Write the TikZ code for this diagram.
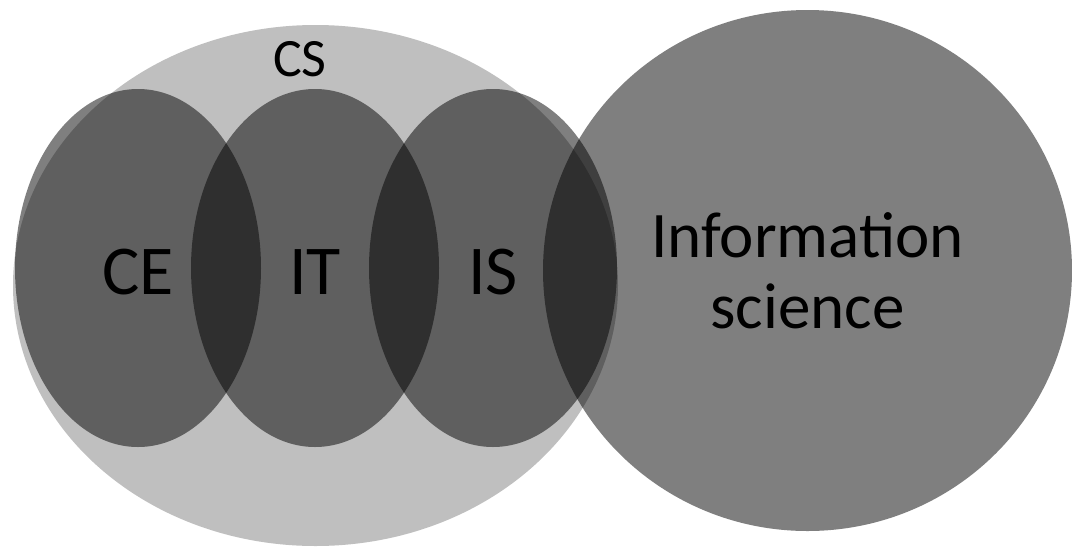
\documentclass[tikz,border=0pt]{standalone}
\usepackage{fontspec}
\setmainfont{Carlito}
\usetikzlibrary{shapes.geometric}
\definecolor{csgray}{HTML}{BFBFBF}
\newcommand{\dn}[1]{\raisebox{-4pt}[\height][\depth]{#1}}
\tikzset{
  field/.style={ellipse,inner sep=0pt,fill=black,fill opacity=.5,text opacity=1,
    font=\fontsize{70}{84}\selectfont},
}
\begin{document}
\begin{tikzpicture}[x=1pt,y=-1pt]
\useasboundingbox (0,0) rectangle (1072,547);
\node[ellipse,fill=csgray,minimum width=605,minimum height=521,inner sep=0pt] (cs) at (315.5,285.5) {};
\node[font=\fontsize{54}{60}\selectfont] (cslabel) at (300,59) {CS};
\node[field,minimum width=246,minimum height=358] (ce) at (138,268) {\dn{CE}};
\node[field,minimum width=248,minimum height=358] (it) at (315,268) {\dn{IT}};
\node[field,minimum width=248,minimum height=358] (is) at (493,268) {\dn{IS}};
\node[field,minimum width=529,minimum height=521,align=center,
  font=\fontsize{65}{71}\selectfont] (info) at (807.5,270.5) {Information\\science};
\end{tikzpicture}
\end{document}
